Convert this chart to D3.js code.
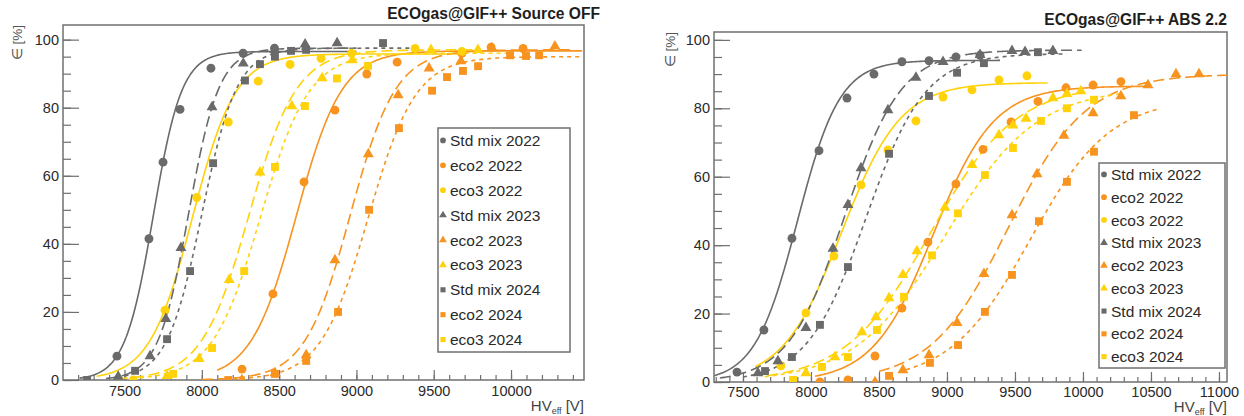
<!DOCTYPE html>
<html>
<head>
<meta charset="utf-8">
<script src="https://cdn.jsdelivr.net/npm/d3@7"></script>
<style>
  body { margin: 0; background: #fff; }
  svg { display: block; font-family: "Liberation Sans", Arial, Helvetica, sans-serif; }
</style>
</head>
<body>
<script>
// legend order: gas varies fastest, then year
const seriesNames = ["Std mix 2022", "eco2 2022", "eco3 2022",
                     "Std mix 2023", "eco2 2023", "eco3 2023",
                     "Std mix 2024", "eco2 2024", "eco3 2024"];
const gasColors = ["#6a6a6a", "#f7931e", "#ffd20a"];

// ---- Source OFF : [HV_eff (V), efficiency (%)]
const off_std22 = [[7451, 7], [7658, 41.5], [7749, 64], [7859, 79.5], [8059, 91.6], [8267, 96], [8470, 97.5]];
const off_eco2_22 = [[8260, 3.2], [8460, 25.3], [8661, 58.2], [8861, 79.3], [9067, 89.9], [9263, 93.4], [9682, 96], [9871, 97.8], [10078, 97.4]];
const off_eco3_22 = [[7557, 0], [7762, 20.5], [7967, 53.6], [8171, 75.8], [8365, 87.8], [8571, 92.7], [8771, 94.5], [8969, 96], [9379, 97.4], [9682, 96.5]];
const off_std23 = [[7459, 1], [7665, 7], [7767, 18], [7865, 38.8], [8066, 80.2], [8268, 93], [8472, 97], [8668, 98.6], [8875, 99]];
const off_eco2_23 = [[8259, 0], [8473, 2], [8675, 7.3], [8861, 35.2], [9077, 66.4], [9270, 83.7], [9470, 91.6], [9676, 93.7], [9877, 97.5], [10284, 98]];
const off_eco3_23 = [[7775, 1.2], [7983, 6.2], [8177, 29.4], [8376, 61], [8582, 80.5], [8778, 88.7], [8973, 94], [9482, 97], [9786, 97]];
const off_std24 = [[7258, 0], [7568, 2.7], [7775, 12], [7924, 32], [8073, 63.7], [8279, 88], [8376, 92.8], [8473, 95], [8577, 96.7], [8674, 97], [9172, 99]];
const off_eco2_24 = [[8171, 0], [8473, 1.8], [8675, 5.6], [8881, 20], [9082, 50], [9275, 74], [9489, 85], [9586, 89], [9689, 90.8], [9787, 92.2], [9994, 95.4], [10097, 95.2], [10182, 95.4]];
const off_eco3_24 = [[7814, 1.8], [8066, 9.4], [8274, 32], [8473, 62.6], [8667, 80.5], [8874, 88.6], [9075, 92.3]];

// sigmoid fits: [plateau, slope, HV50, from, to]
const offFits = [
  [96.5, 0.0108, 7686, 7210, 9000], [96.7, 0.0068, 8612, 8100, 10460], [95.8, 0.0072, 7940, 7320, 9700],
  [97.5, 0.0101, 7914, 7380, 9000], [97.0, 0.0068, 8960, 8000, 10400], [97.0, 0.0065, 8305, 7450, 9800],
  [97.5, 0.0088, 8000, 7500, 9350], [95.0, 0.0065, 9075, 8150, 10460], [96.0, 0.0064, 8380, 7600, 10000]
];

// ---- ABS 2.2
const abs_std22 = [[7456, 2.9], [7654, 15.2], [7860, 42], [8059, 67.6], [8265, 83], [8463, 90], [8669, 93.6], [8868, 93.9], [9066, 95], [9243, 95.5]];
const abs_eco2_22 = [[8066, 0], [8272, 0.6], [8471, 7.6], [8669, 21.6], [8860, 40.9], [9066, 57.9], [9265, 68], [9471, 76], [9669, 82], [9875, 86], [10074, 86.8], [10279, 87.8]];
const abs_eco3_22 = [[7779, 4.7], [7963, 20.2], [8169, 36.8], [8368, 57.6], [8566, 67.8], [8772, 76.3], [8971, 83.3], [9184, 85.4], [9382, 88.3], [9588, 89.5]];
const abs_std23 = [[7610, 2.6], [7757, 6.1], [7963, 15.8], [8162, 39], [8272, 51.8], [8368, 62.5], [8566, 79.5], [8772, 89], [8971, 93.6], [9243, 95.6], [9478, 96.8], [9574, 96.5], [9779, 96.8]];
const abs_eco2_23 = [[8471, 0], [8676, 3.5], [8868, 7.9], [9074, 17.3], [9272, 31.6], [9478, 48.8], [9662, 60.8], [9860, 72], [10074, 78.6], [10279, 83.6], [10478, 86.8], [10684, 90], [10853, 90]];
const abs_eco3_23 = [[7963, 2.6], [8176, 7.3], [8375, 14.6], [8478, 19], [8574, 24.5], [8676, 31.3], [8779, 38.3], [8985, 51], [9184, 63.5], [9382, 72.2], [9485, 75], [9581, 77], [9779, 83], [9882, 84.2], [9985, 85]];
const abs_std24 = [[7662, 3.2], [7860, 7.3], [8066, 16.7], [8272, 33.6], [8574, 66.7], [8868, 83.6], [9074, 90.4], [9272, 93.2], [9669, 96.4]];
const abs_eco2_24 = [[8574, 1.8], [8875, 5.6], [9081, 10.8], [9279, 20.5], [9478, 31.3], [9676, 47], [9882, 58.5], [10081, 67.3], [10375, 78]];
const abs_eco3_24 = [[7868, 0.6], [8081, 4.4], [8272, 7.3], [8485, 15.2], [8684, 24.9], [8890, 37], [9081, 49.3], [9279, 60.5], [9485, 68.4], [9691, 76.3], [9882, 80], [10081, 82.5]];

const absFits = [
  [94.0, 0.0064, 7900, 7290, 9390], [86.5, 0.0045, 8900, 8030, 10490], [87.5, 0.0046, 8225, 7590, 9740],
  [97.0, 0.0048, 8248, 7330, 9990], [90.0, 0.0035, 9450, 8500, 11060], [87.0, 0.0032, 8877, 7680, 9990],
  [96.0, 0.0046, 8405, 7500, 9880], [83.0, 0.0034, 9610, 8700, 10550], [86.0, 0.0030, 8990, 7660, 10290]
];

const offPoints = [off_std22, off_eco2_22, off_eco3_22, off_std23, off_eco2_23, off_eco3_23, off_std24, off_eco2_24, off_eco3_24];
const absPoints = [abs_std22, abs_eco2_22, abs_eco3_22, abs_std23, abs_eco2_23, abs_eco3_23, abs_std24, abs_eco2_24, abs_eco3_24];

const width = 1244, height = 416;
const symbols = [d3.symbolCircle, d3.symbolTriangle, d3.symbolSquare];
const dashes = [null, "11,5", "4,4"];

const svg = d3.select("body").append("svg")
  .attr("width", width)
  .attr("height", height);

const panels = [
  { id: "off", title: "ECOgas@GIF++ Source OFF", left: 63, right: 584, top: 25, bottom: 380,
    xdom: [7102, 10472], ymax: 104.3, pts: offPoints, fits: offFits,
    legend: [438, 128, 570, 352], titleX: 600, titleY: 19, ylabX: 21.5, xlabY: 411, tickY: 6 },
  { id: "abs", title: "ECOgas@GIF++ ABS 2.2", left: 714, right: 1227, top: 32, bottom: 382,
    xdom: [7287, 11059], ymax: 102.3, pts: absPoints, fits: absFits,
    legend: [1099, 163, 1225, 368], titleX: 1227, titleY: 25, ylabX: 674.5, xlabY: 412, tickY: 5 }
];

panels.forEach(drawPanel);

function drawPanel(p) {
  const x = d3.scaleLinear().domain(p.xdom).range([p.left, p.right]);
  const y = d3.scaleLinear().domain([0, p.ymax]).range([p.bottom, p.top]);
  const g = svg.append("g");

  svg.append("clipPath").attr("id", "clip-" + p.id)
    .append("rect")
    .attr("x", p.left).attr("y", p.top)
    .attr("width", p.right - p.left).attr("height", p.bottom - p.top);

  // minor + major ticks, inside the frame
  const xMinor = d3.range(Math.ceil(p.xdom[0] / 100) * 100, p.xdom[1], 100);
  const xMajor = xMinor.filter(v => v % 500 === 0);
  g.append("g").attr("transform", `translate(0,${p.bottom})`)
    .call(d3.axisBottom(x).tickValues(xMinor).tickSize(-5).tickFormat(""))
    .call(a => a.select(".domain").remove());
  g.append("g").attr("class", "xmajor").attr("transform", `translate(0,${p.bottom})`)
    .call(d3.axisBottom(x).tickValues(xMajor).tickSize(-10).tickPadding(p.tickY).tickFormat(d3.format("d")))
    .call(a => a.select(".domain").remove());

  g.append("g").attr("transform", `translate(${p.left},0)`)
    .call(d3.axisLeft(y).tickValues(d3.range(0, 101, 5)).tickSize(-8).tickFormat(""))
    .call(a => a.select(".domain").remove());
  g.append("g").attr("class", "ymajor").attr("transform", `translate(${p.left},0)`)
    .call(d3.axisLeft(y).tickValues(d3.range(0, 101, 20)).tickSize(-16).tickPadding(4).tickFormat(d3.format("d")))
    .call(a => a.select(".domain").remove());

  g.selectAll(".tick line").attr("stroke", "#6f6f6f").attr("stroke-width", 1.2);
  g.selectAll(".tick text").attr("fill", "#2a2a2a").style("font-size", "14.5px")
    .style("font-family", "'Liberation Sans', Arial, sans-serif");

  // frame
  g.append("rect")
    .attr("x", p.left).attr("y", p.top)
    .attr("width", p.right - p.left).attr("height", p.bottom - p.top)
    .attr("fill", "none").attr("stroke", "#707070").attr("stroke-width", 1.5);

  // fitted curves
  const line = d3.line().x(d => x(d[0])).y(d => y(d[1]));
  const curves = g.append("g").attr("clip-path", `url(#clip-${p.id})`);
  p.fits.forEach((f, i) => {
    const [emax, k, v50, v0, v1] = f;
    const samples = d3.range(v0, v1 + 1, 10).map(v => [v, emax / (1 + Math.exp(-k * (v - v50)))]);
    curves.append("path")
      .attr("d", line(samples))
      .attr("fill", "none")
      .attr("stroke", gasColors[i % 3])
      .attr("stroke-width", 1.6)
      .attr("stroke-dasharray", dashes[Math.floor(i / 3)]);
  });

  // data points
  p.pts.forEach((s, i) => {
    const sym = d3.symbol().type(symbols[Math.floor(i / 3)]).size(Math.floor(i / 3) === 1 ? 52 : 62);
    curves.append("g").selectAll("path")
      .data(s)
      .join("path")
      .attr("transform", d => `translate(${x(d[0])},${y(d[1])})`)
      .attr("d", sym)
      .attr("fill", gasColors[i % 3]);
  });

  // titles
  svg.append("text")
    .attr("x", p.titleX).attr("y", p.titleY)
    .attr("text-anchor", "end")
    .style("font-size", "15.6px").style("font-weight", "bold")
    .attr("fill", "#1e1e1e")
    .text(p.title);

  svg.append("text")
    .attr("transform", `translate(${p.ylabX},${p.top}) rotate(-90)`)
    .attr("text-anchor", "end")
    .style("font-size", "13.5px")
    .attr("fill", "#555")
    .text("∈ [%]");

  const xl = svg.append("text")
    .attr("x", p.right).attr("y", p.xlabY)
    .attr("text-anchor", "end")
    .style("font-size", "15px")
    .attr("fill", "#444");
  xl.append("tspan").text("HV");
  xl.append("tspan").attr("dy", 3).style("font-size", "9px").text("eff");
  xl.append("tspan").attr("dy", -3).text(" [V]");

  // legend
  const [lx0, ly0, lx1, ly1] = p.legend;
  const step = (ly1 - ly0) / seriesNames.length;
  svg.append("rect")
    .attr("x", lx0).attr("y", ly0)
    .attr("width", lx1 - lx0).attr("height", ly1 - ly0)
    .attr("fill", "#fff").attr("stroke", "#707070").attr("stroke-width", 1.5);
  const items = svg.append("g").selectAll("g")
    .data(seriesNames)
    .join("g")
    .attr("transform", (d, i) => `translate(${lx0},${ly0 + step * (i + 0.5)})`);
  items.append("path")
    .attr("transform", "translate(5,0)")
    .attr("d", (d, i) => d3.symbol().type(symbols[Math.floor(i / 3)]).size(26)())
    .attr("fill", (d, i) => gasColors[i % 3]);
  items.append("text")
    .attr("x", 12).attr("dy", "0.36em")
    .style("font-size", "15.5px")
    .attr("fill", "#2a2a2a")
    .text(d => d);
}
</script>
</body>
</html>
